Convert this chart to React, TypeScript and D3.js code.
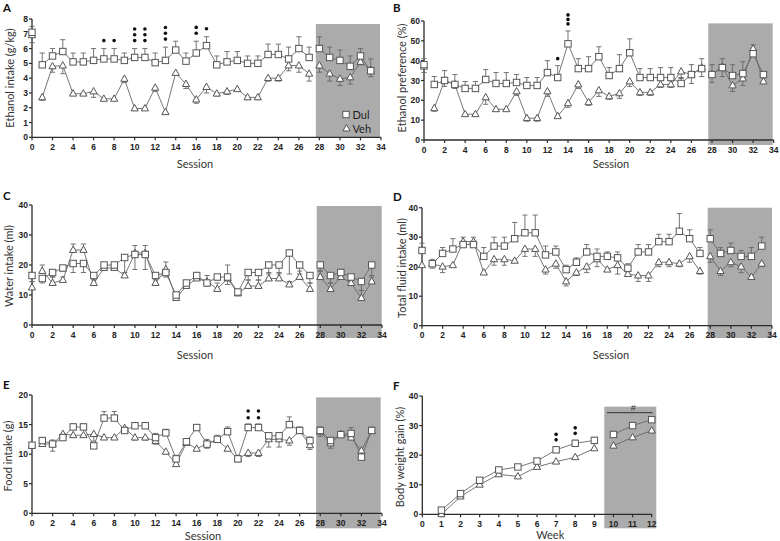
import React from 'react';
import * as d3 from 'd3';

// ---------- categories / ticks ----------
const sessions = [0,1,2,3,4,5,6,7,8,9,10,11,12,13,14,15,16,17,18,19,20,21,22,23,24,25,26,27,28,29,30,31,32,33];
const weeks = [1,2,3,4,5,6,7,8,9,10,11,12];
const sessionTicks = [0,2,4,6,8,10,12,14,16,18,20,22,24,26,28,30,32,34];
const weekTicks = [0,1,2,3,4,5,6,7,8,9,10,11,12];
const yTicksA = [0,1,2,3,4,5,6,7,8];
const yTicksB = [0,10,20,30,40,50,60];
const yTicks40 = [0,10,20,30,40];
const yTicksE = [0,5,10,15,20];

// ---------- A: ethanol intake ----------
const aDul = [7.1,4.9,5.5,5.8,5.1,5.1,5.2,5.3,5.3,5.2,5.4,5.4,5.05,5.2,5.9,5.15,5.7,6.2,4.9,5.1,5.2,5.0,5.0,5.6,5.6,5.3,6.0,5.4,6.0,5.4,5.2,4.8,5.5,4.5];
const aDulSem = [0.4,0.8,0.5,0.8,0.6,0.6,0.8,0.7,0.7,0.5,0.6,0.6,0.65,0.9,0.6,0.55,0.8,0.6,0.6,0.7,0.6,0.5,0.5,0.7,0.7,0.8,0.8,0.7,0.8,0.7,0.7,0.7,0.5,0.8];
const aVeh = [6.9,2.7,4.8,4.85,2.95,2.95,3.1,2.6,2.6,3.95,1.95,1.95,3.35,1.7,4.35,3.6,2.55,3.4,2.95,3.1,3.25,2.7,2.7,4.0,4.0,4.85,4.85,4.3,4.85,4.3,3.95,4.05,5.1,4.55];
const aVehSem = [0.5,0.2,0.4,0.55,0.1,0.1,0.4,0.1,0.1,0.25,0.05,0.05,0.25,0.05,0.15,0.3,0.25,0.4,0.15,0.2,0.15,0.15,0.15,0.2,0.2,0.35,0.45,0.5,0.45,0.5,0.45,0.45,0.2,0.45];
const aSig = [[7,1],[8,1],[10,3],[11,3],[13,3],[16,2],[17,1]];

// ---------- B: ethanol preference ----------
const bDul = [38,28,30,28,26,26,30.5,28.5,28.5,29,27.5,27.5,34,31.5,48.5,36,36,42,32.5,36,44,31.5,31.5,31.5,31.5,28.5,33,36,33,36.5,32.5,33.5,43.5,33];
const bDulSem = [3,4,5,5,3.5,3.5,5,5.5,5.5,4,4,4,6,6,6.5,5,6,5,4,7,7,4.5,4.5,5,5,3,5,5,5,4.5,5.5,6,4.5,1];
const bVeh = [37,16,30,28,13,13,21.5,15.5,15.5,24.5,11,11,24.5,12,18.5,28,19,25,22,23.5,29.5,24,24,28,28,34.5,33,36.5,33,37,27.5,31,46,29.5];
const bVehSem = [3,1.5,3,2,0.5,0.5,3.5,0.5,0.5,2,1.5,1.5,2.5,0.5,2,2,1.5,3,1.5,2.5,2.5,1.5,1.5,1.5,1.5,3.5,4.5,4.5,4,5,3,3.5,2,0.5];
const bSig = [[13,1],[14,3]];

// ---------- C: water intake ----------
const cDul = [16.5,15.5,17.5,19,20.5,20.5,16.5,20,20,22.5,23.5,23.5,16.5,17.5,10,14,16.5,14,16,16,11,17.5,17.5,20,20,24,20,16.5,20,16.5,17.5,16,14.5,20];
const cDulSem = [2,1.5,1.5,1,3,3,1,1,1.5,6.5,5,5,1,1.5,1,1,1,1,1,2.5,1,2.5,2.5,3,3,7,3,2.5,2,2.5,1,1,3,3.5];
const cVeh = [12.5,18,14,15,25,25,14,19,19,16.5,24,24,14,18.5,9,13,15.5,14.5,12,15.5,10.5,13,13,15.5,15.5,13.5,16,12,16,12,16,14,9,14.5];
const cVehSem = [2,2,2,1,2,2,1,1.5,1.5,1,2.5,2.5,1,2.5,1.5,1,2,2,2,4.5,1,2,2,2,2,1,2,2,2,2,1,1,2.5,1.5];

// ---------- D: total fluid intake ----------
const dDul = [25.5,21,24.5,26,27.5,27.5,23.5,27,27,29.5,31.5,31.5,24,25,19,21.5,25,23.5,23.5,23,19.5,25,25,28.5,28.5,32,29.5,24.5,29.5,24.5,25.5,23.5,23.5,27];
const dDulSem = [2.5,1.5,2,3.5,2.5,2.5,3,3,3,5.5,6,6,3,2,1.5,1.5,2.5,2.5,1.5,2,1.5,2.5,2.5,2.5,2.5,6,3,2,3,2,2.5,2,3,3];
const dVeh = [20.5,21,20,20.5,28.5,28.5,18,22.5,22.5,22,26,26,19,21,15,18,20,22.5,19,20.5,17.5,17,17,21.5,21.5,21,23.5,18.5,23.5,18.5,21.5,20,16.5,21];
const dVehSem = [0.5,1.5,2,0.5,1,1,0.5,2,2,0.5,2.5,2.5,1.5,1.5,1.5,1,2,2.5,0.5,3,0.5,2,2,1.5,1.5,1,2,1,2,1.5,1.5,2,0.5,1];

// ---------- E: food intake ----------
const eDul = [11.5,12.3,11.7,12.8,14.6,14.6,11.4,16.1,16.1,14,14.8,14.8,12.8,13.6,9.2,12.1,14.5,11.7,12.5,13.8,9.2,14.5,14.5,13.1,13.1,15,14,12.3,14,12.3,13.3,13.5,9.5,14];
const eDulSem = [0.4,0.4,0.7,0.3,0.5,0.5,0.3,1.1,1.1,0.4,0.4,0.4,0.7,0.6,0.6,0.4,0.4,0.8,0.7,0.8,0.6,0.6,0.6,0.5,0.5,1.3,0.6,0.6,0.6,0.5,0.3,1,0.5,0.5];
const eVeh = [11.5,11.7,11.7,13.4,13.2,13.2,13.4,12.8,12.8,14.4,12.8,12.8,12.2,10.4,8.3,11.9,10.9,11.8,12.4,10.9,9.2,10.2,10.2,12.5,12.5,12.3,13.9,11.5,13.8,11.8,13.4,12.8,10.6,14];
const eVehSem = [0.4,0.3,1.2,0.3,0.3,0.3,1.2,0.3,0.3,0.3,0.4,0.4,0.5,0.3,0.3,0.3,0.3,0.8,0.3,0.3,0.5,0.6,0.6,1.3,1.3,0.8,0.3,0.7,0.8,0.8,0.3,0.3,1.1,0.3];
const eSig = [[21,2],[22,2]];

// ---------- F: body weight gain ----------
const fDul = [1.4,7,11.5,15,16,18,21.8,24,25,27,30,32];
const fDulSem = [0.3,0.5,0.5,0.5,0.5,0.5,1,1,1,1,0.8,0.8];
const fVeh = [0,6,10,13.5,12.8,16,17.8,19.3,22.3,23.2,26,28.3];
const fVehSem = [0.2,0.4,0.4,0.5,0.4,0.4,0.5,0.5,0.4,0.5,0.5,0.5];
const fSig = [[7,2],[8,2]];

const AXIS = '#2b2b2b';
const LINE = '#666666';
const MARK = '#555555';
const GRAY = '#ababab';
const TICKFONT = '"Liberation Sans", Arial, sans-serif';
const TITLEFONT = 'Lato, "Open Sans", sans-serif';

type Series = { x: number[]; y: number[]; sem: number[]; dir: number; shape: 'sq' | 'tri'; segments: number[][] };

type PanelDef = {
  letter: string; lx: number; ly: number;
  left: number; right: number; top: number; bottom: number;
  xMax: number; yMax: number; xTicks: number[]; yTicks: number[];
  box: [number, number, number, number];
  series: Series[];
  sig: number[][]; sigRef: Series; sigGap: number; sigStep: number;
  yTitle: string; ytx: number; yty: number;
  xTitle: string; xtx: number; xty: number;
  legend?: boolean;
};

const triPath = (cx: number, cy: number) => {
  const w = 7.2, h = 6.4;
  return `M${cx},${cy - h * 0.62}L${cx + w / 2},${cy + h * 0.38}L${cx - w / 2},${cy + h * 0.38}Z`;
};

function Marker({ shape, cx, cy }: { shape: string; cx: number; cy: number }) {
  if (shape === 'sq') return <rect x={cx - 3.2} y={cy - 3.2} width={6.4} height={6.4} fill="#fff" stroke={MARK} strokeWidth={1} />;
  return <path d={triPath(cx, cy)} fill="#fff" stroke={MARK} strokeWidth={1} />;
}

function Panel({ p }: { p: PanelDef }) {
  const x = d3.scaleLinear().domain([0, p.xMax]).range([p.left, p.right]);
  const y = d3.scaleLinear().domain([0, p.yMax]).range([p.bottom, p.top]);
  const line = d3.line<[number, number]>().x(d => x(d[0])).y(d => y(d[1]));
  const [bx0, bx1, byTop, bBelow] = p.box;
  return (
    <g>
      <rect x={x(bx0)} y={y(byTop)} width={x(bx1) - x(bx0)} height={p.bottom + bBelow - y(byTop)} fill={GRAY} />
      <line x1={p.left} x2={p.left} y1={p.bottom} y2={y(p.yMax)} stroke={AXIS} strokeWidth={1.3} />
      <line x1={p.left} x2={x(p.xMax)} y1={p.bottom} y2={p.bottom} stroke={AXIS} strokeWidth={1.3} />
      {p.yTicks.map(t => (
        <g key={'y' + t}>
          <line x1={p.left - 3} x2={p.left} y1={y(t)} y2={y(t)} stroke={AXIS} strokeWidth={1.2} />
          <text x={p.left - 4} y={y(t) + 3} textAnchor="end" fontFamily={TICKFONT} fontWeight="bold" fontSize={8.5} fill="#222">{t}</text>
        </g>
      ))}
      {p.xTicks.map(t => (
        <g key={'x' + t}>
          <line x1={x(t)} x2={x(t)} y1={p.bottom} y2={p.bottom + 3} stroke={AXIS} strokeWidth={1.2} />
          <text x={x(t)} y={p.bottom + 12.5} textAnchor="middle" fontFamily={TICKFONT} fontWeight="bold" fontSize={8.5} fill="#222">{t}</text>
        </g>
      ))}
      {p.series.map((s, si) => s.segments.map((seg, gi) => {
        const pts: [number, number][] = s.x.map((xx, i) => [xx, s.y[i]] as [number, number]).filter(d => d[0] >= seg[0] && d[0] <= seg[1]);
        return <path key={`l${si}-${gi}`} d={line(pts) || ''} fill="none" stroke={LINE} strokeWidth={0.9} />;
      }))}
      {p.series.map((s, si) => s.x.map((xx, i) => {
        const y1 = y(s.y[i]);
        const y2 = y(s.y[i] + s.dir * s.sem[i]);
        return (
          <g key={`e${si}-${i}`}>
            <line x1={x(xx)} x2={x(xx)} y1={y1} y2={y2} stroke={LINE} strokeWidth={0.9} />
            <line x1={x(xx) - 2.6} x2={x(xx) + 2.6} y1={y2} y2={y2} stroke={LINE} strokeWidth={0.9} />
          </g>
        );
      }))}
      {p.series.map((s, si) => s.x.map((xx, i) => (
        <Marker key={`m${si}-${i}`} shape={s.shape} cx={x(xx)} cy={y(s.y[i])} />
      )))}
      {p.sig.map(([sx, n]) => {
        const i = p.sigRef.x.indexOf(sx);
        const base = y(p.sigRef.y[i] + p.sigRef.sem[i]) - p.sigGap;
        return Array.from({ length: n }).map((_, k) => (
          <circle key={`s${sx}-${k}`} cx={x(sx)} cy={base - k * p.sigStep} r={1.8} fill="#111" />
        ));
      })}
      <text x={p.lx} y={p.ly} fontFamily={TITLEFONT} fontWeight="bold" fontSize={11.5} fill="#111">{p.letter}</text>
      <text transform={`translate(${p.ytx},${p.yty}) rotate(-90)`} textAnchor="middle" fontFamily={TITLEFONT} fontSize={11} fill="#333">{p.yTitle}</text>
      <text x={p.xtx} y={p.xty} textAnchor="middle" fontFamily={TITLEFONT} fontSize={11} fill="#333">{p.xTitle}</text>
      {p.legend && (
        <g>
          <Marker shape="sq" cx={346} cy={114.5} />
          <text x={352.5} y={118.5} fontFamily={TITLEFONT} fontSize={11} fill="#222">Dul</text>
          <Marker shape="tri" cx={346.5} cy={128.5} />
          <text x={352.5} y={132.5} fontFamily={TITLEFONT} fontSize={11} fill="#222">Veh</text>
        </g>
      )}
    </g>
  );
}

const mk = (xs: number[], dul: number[], dulSem: number[], dulDir: number, veh: number[], vehSem: number[], vehDir: number, segs: number[][]): Series[] => [
  { x: xs, y: veh, sem: vehSem, dir: vehDir, shape: 'tri', segments: segs },
  { x: xs, y: dul, sem: dulSem, dir: dulDir, shape: 'sq', segments: segs },
];

const sesSegs = [[1, 27], [28, 33]];

export default function App() {
  const sA = mk(sessions, aDul, aDulSem, 1, aVeh, aVehSem, -1, sesSegs);
  const sB = mk(sessions, bDul, bDulSem, 1, bVeh, bVehSem, -1, sesSegs);
  const sC = mk(sessions, cDul, cDulSem, -1, cVeh, cVehSem, 1, sesSegs);
  const sD = mk(sessions, dDul, dDulSem, 1, dVeh, dVehSem, -1, sesSegs);
  const sE = mk(sessions, eDul, eDulSem, 1, eVeh, eVehSem, -1, sesSegs);
  const sF = mk(weeks, fDul, fDulSem, 1, fVeh, fVehSem, -1, [[1, 9], [10, 12]]);

  const panels: PanelDef[] = [
    { letter: 'A', lx: 3, ly: 12, left: 32, right: 381, top: 19, bottom: 137.3, xMax: 34, yMax: 8, xTicks: sessionTicks, yTicks: yTicksA,
      box: [27.65, 33.9, 7.66, 0], series: sA, sig: aSig, sigRef: sA[1], sigGap: 8, sigStep: 5.8,
      yTitle: 'Ethanol intake (g/kg)', ytx: 14, yty: 78, xTitle: 'Session', xtx: 195, xty: 167.5, legend: true },
    { letter: 'B', lx: 393, ly: 12, left: 424, right: 773.7, top: 21, bottom: 140, xMax: 34, yMax: 60, xTicks: sessionTicks, yTicks: yTicksB,
      box: [27.64, 33.9, 58.8, 5], series: sB, sig: bSig, sigRef: sB[1], sigGap: 7, sigStep: 4.5,
      yTitle: 'Ethanol preference (%)', ytx: 405.5, yty: 78, xTitle: 'Session', xtx: 611, xty: 168 },
    { letter: 'C', lx: 3, ly: 200, left: 32, right: 382, top: 205, bottom: 325, xMax: 34, yMax: 40, xTicks: sessionTicks, yTicks: yTicks40,
      box: [27.66, 33.97, 39.67, 13], series: sC, sig: [], sigRef: sC[1], sigGap: 8, sigStep: 6,
      yTitle: 'Water intake (ml)', ytx: 13, yty: 266, xTitle: 'Session', xtx: 195, xty: 359 },
    { letter: 'D', lx: 393, ly: 200.5, left: 422, right: 772, top: 207.7, bottom: 325.7, xMax: 34, yMax: 40, xTicks: sessionTicks, yTicks: yTicks40,
      box: [27.75, 34.0, 40, 12.3], series: sD, sig: [], sigRef: sD[1], sigGap: 8, sigStep: 6,
      yTitle: 'Total fluid intake (ml)', ytx: 406, yty: 268, xTitle: 'Session', xtx: 611, xty: 358.5 },
    { letter: 'E', lx: 3, ly: 389, left: 32, right: 382, top: 395, bottom: 513.3, xMax: 34, yMax: 20, xTicks: sessionTicks, yTicks: yTicksE,
      box: [27.6, 33.87, 19.6, 15], series: sE, sig: eSig, sigRef: sE[1], sigGap: 6.3, sigStep: 6.7,
      yTitle: 'Food intake (g)', ytx: 12, yty: 456, xTitle: 'Session', xtx: 203, xty: 540 },
    { letter: 'F', lx: 393, ly: 389.5, left: 422.3, right: 651.7, top: 396, bottom: 514.3, xMax: 12, yMax: 40, xTicks: weekTicks, yTicks: yTicks40,
      box: [9.52, 12.24, 36.4, 14], series: sF, sig: fSig, sigRef: sF[1], sigGap: 7, sigStep: 5.5,
      yTitle: 'Body weight gain (%)', ytx: 404, yty: 457, xTitle: 'Week', xtx: 550.3, xty: 539 },
  ];

  return (
    <div style={{ position: 'absolute', left: 0, top: 0 }}>
      <svg width={780} height={541} viewBox="0 0 780 541" style={{ display: 'block', background: '#fff' }}>
        {panels.map(p => <Panel key={p.letter} p={p} />)}
        <line x1={607} x2={652.7} y1={412.7} y2={412.7} stroke="#333" strokeWidth={1} />
        <text x={633.3} y={411} textAnchor="middle" fontFamily={TICKFONT} fontSize={9} fill="#333">#</text>
      </svg>
    </div>
  );
}
